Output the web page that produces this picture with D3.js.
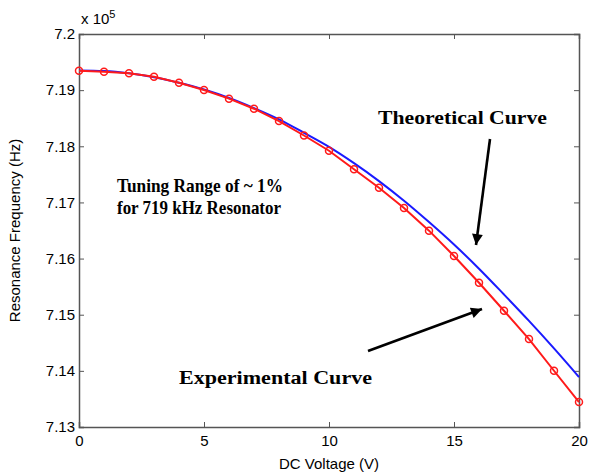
<!DOCTYPE html>
<html><head><meta charset="utf-8">
<script src="https://cdn.jsdelivr.net/npm/d3@7/dist/d3.min.js"></script>
<style>body{margin:0;background:#fff}</style>
</head><body>
<svg id="c" width="600" height="475"></svg>
<script>
const voltage = [0,1,2,3,4,5,6,7,8,9,10,11,12,13,14,15,16,17,18,19,20];
const experimental = [7.19346,7.19328,7.19300,7.19239,7.19133,7.19003,7.18848,7.18669,7.18450,7.18192,7.17921,7.17590,7.17262,7.16901,7.16497,7.16046,7.15570,7.15071,7.14567,7.14002,7.13445];
const theoretical = [7.1935,7.1934,7.1930,7.1923,7.1913,7.1901,7.1886,7.1868,7.1848,7.1824,7.1799,7.1770,7.1738,7.1703,7.1665,7.1625,7.1582,7.1536,7.1489,7.1440,7.1389];
const xTicks = [0,5,10,15,20];
const yTicks = [7.13,7.14,7.15,7.16,7.17,7.18,7.19,7.2];

const svg = d3.select("#c");
const L=79,R=579,T=34,B=427;
const x = d3.scaleLinear().domain([0,20]).range([L,R]);
const y = d3.scaleLinear().domain([7.13,7.20]).range([B,T]);
const axCol="#555";
const font="Liberation Sans, Arial, sans-serif";

// axes
const gx = svg.append("g").attr("transform",`translate(0,${B})`)
  .call(d3.axisBottom(x).tickValues(xTicks).tickFormat(d3.format("d")).tickSize(-5).tickPadding(6));
const gxt = svg.append("g").attr("transform",`translate(0,${T})`)
  .call(d3.axisTop(x).tickValues(xTicks).tickFormat("").tickSize(-5));
const gy = svg.append("g").attr("transform",`translate(${L},0)`)
  .call(d3.axisLeft(y).tickValues(yTicks).tickFormat(d=>String(+d.toFixed(2))).tickSize(-5).tickPadding(6));
const gyr = svg.append("g").attr("transform",`translate(${R},0)`)
  .call(d3.axisRight(y).tickValues(yTicks).tickFormat("").tickSize(-5));
[gx,gxt,gy,gyr].forEach(g=>{
  g.select(".domain").attr("stroke",axCol).attr("stroke-width",1.5);
  g.selectAll(".tick line").attr("stroke",axCol);
  g.selectAll("text").attr("font-family",font).attr("font-size",15).attr("fill","#000");
});
gy.selectAll(".tick text").attr("dx",2);
gx.selectAll(".tick text").attr("dy","0.85em");

// exponent label
const ex = svg.append("text").attr("x",81).attr("y",24).attr("font-family",font).attr("font-size",15);
ex.append("tspan").text("x 10");
ex.append("tspan").attr("dy",-6).attr("font-size",11).text("5");

// axis titles
svg.append("text").attr("x",(L+R)/2).attr("y",469).attr("text-anchor","middle")
  .attr("font-family",font).attr("font-size",15).text("DC Voltage (V)");
svg.append("text").attr("transform",`translate(20,${(T+B)/2}) rotate(-90)`).attr("text-anchor","middle")
  .attr("font-family",font).attr("font-size",15).text("Resonance Frequency (Hz)");

// curves
const line = d3.line().x((d,i)=>x(voltage[i])).y(d=>y(d));
const lineSmooth = d3.line().x((d,i)=>x(voltage[i])).y(d=>y(d)).curve(d3.curveMonotoneX);
svg.append("path").datum(theoretical).attr("d",lineSmooth).attr("fill","none").attr("stroke","#1a1aff").attr("stroke-width",2);
svg.append("path").datum(experimental).attr("d",line).attr("fill","none").attr("stroke","#ff1a1a").attr("stroke-width",2);
svg.selectAll("circle.e").data(experimental).enter().append("circle")
  .attr("cx",(d,i)=>x(voltage[i])).attr("cy",d=>y(d)).attr("r",3.5)
  .attr("fill","none").attr("stroke","#ff1a1a").attr("stroke-width",1.5);

// annotations
const serif="Liberation Serif, Times New Roman, serif";
function ann(t,xx,yy,fs,len){const e=svg.append("text").attr("x",xx).attr("y",yy).attr("font-family",serif)
  .attr("font-weight","bold").attr("font-size",fs).text(t);
  if(len) e.attr("textLength",len).attr("lengthAdjust","spacingAndGlyphs");}
ann("Theoretical Curve",378,124,18,169);
ann("Tuning Range of ~ 1%",117,192,19,166);
ann("for 719 kHz Resonator",117,214,19,164);
ann("Experimental Curve",179,384,18,193);

svg.append("defs").append("marker").attr("id","ah").attr("viewBox","0 0 10 10")
  .attr("refX",10).attr("refY",5).attr("markerWidth",7).attr("markerHeight",4.2)
  .attr("orient","auto").attr("markerUnits","strokeWidth")
  .append("path").attr("d","M0,0L10,5L0,10z").attr("fill","#000");
function arrow(x1,y1,x2,y2){svg.append("line").attr("x1",x1).attr("y1",y1).attr("x2",x2).attr("y2",y2)
  .attr("stroke","#000").attr("stroke-width",2.6).attr("marker-end","url(#ah)");}
arrow(490,139,476,245);
arrow(368,351,482,309);
</script>
</body></html>
